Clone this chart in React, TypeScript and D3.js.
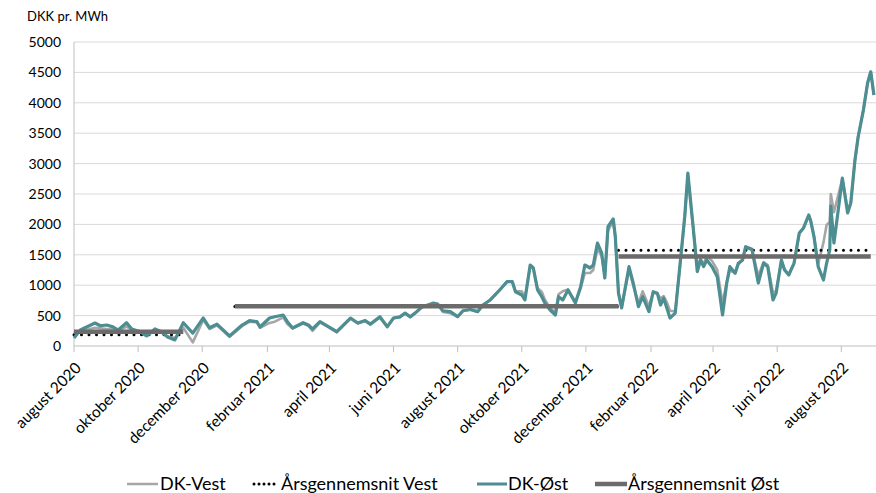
import React from 'react'
import * as d3 from 'd3'

const width = 876
const height = 493
const font = 'Lato, "Open Sans", sans-serif'

// ugentlige observationer (DKK pr. MWh)
const dates = [
  '2020-08-01', '2020-08-07', '2020-08-21', '2020-08-26', '2020-09-01', '2020-09-07', '2020-09-12', '2020-09-20',
  '2020-09-25', '2020-10-03', '2020-10-09', '2020-10-17', '2020-10-24', '2020-10-29', '2020-11-05', '2020-11-13',
  '2020-11-22', '2020-12-02', '2020-12-08', '2020-12-15', '2020-12-27', '2021-01-08', '2021-01-15', '2021-01-22',
  '2021-01-25', '2021-02-03', '2021-02-08', '2021-02-16', '2021-02-20', '2021-02-25', '2021-03-07', '2021-03-12',
  '2021-03-16', '2021-03-23', '2021-03-31', '2021-04-08', '2021-04-21', '2021-04-28', '2021-05-05', '2021-05-10',
  '2021-05-19', '2021-05-26', '2021-06-01', '2021-06-07', '2021-06-12', '2021-06-17', '2021-06-23', '2021-06-28',
  '2021-07-09', '2021-07-13', '2021-07-18', '2021-07-25', '2021-08-01', '2021-08-06', '2021-08-13', '2021-08-20',
  '2021-08-25', '2021-09-01', '2021-09-10', '2021-09-17', '2021-09-22', '2021-09-25', '2021-10-01', '2021-10-04',
  '2021-10-09', '2021-10-12', '2021-10-16', '2021-10-20', '2021-10-23', '2021-10-28', '2021-11-02', '2021-11-05',
  '2021-11-09', '2021-11-14', '2021-11-21', '2021-11-26', '2021-11-30', '2021-12-05', '2021-12-08', '2021-12-12',
  '2021-12-16', '2021-12-19', '2021-12-22', '2021-12-27', '2021-12-29', '2022-01-01', '2022-01-04', '2022-01-11',
  '2022-01-15', '2022-01-20', '2022-01-24', '2022-01-26', '2022-01-30', '2022-02-03', '2022-02-07', '2022-02-10',
  '2022-02-13', '2022-02-16', '2022-02-19', '2022-02-24', '2022-03-01', '2022-03-05', '2022-03-08', '2022-03-13',
  '2022-03-17', '2022-03-20', '2022-03-23', '2022-03-26', '2022-03-31', '2022-04-05', '2022-04-10', '2022-04-14',
  '2022-04-17', '2022-04-22', '2022-04-25', '2022-04-29', '2022-05-02', '2022-05-08', '2022-05-14', '2022-05-19',
  '2022-05-23', '2022-05-28', '2022-05-31', '2022-06-05', '2022-06-08', '2022-06-12', '2022-06-17', '2022-06-22',
  '2022-06-26', '2022-07-01', '2022-07-03', '2022-07-06', '2022-07-10', '2022-07-15', '2022-07-18', '2022-07-21',
  '2022-07-22', '2022-07-25', '2022-08-02', '2022-08-07', '2022-08-10', '2022-08-14', '2022-08-17', '2022-08-22',
  '2022-08-26', '2022-08-29', '2022-09-01',
]

const dkVest = [
  200, 240, 300, 290, 280, 270, 250, 320, 260, 225, 170, 260, 215, 160, 130, 300,
  60, 430, 280, 340, 150, 330, 400, 390, 300, 380, 400, 470, 360, 290, 370, 330,
  250, 390, 310, 225, 450, 370, 410, 350, 470, 310, 455, 475, 535, 475, 560, 635,
  700, 685, 560, 540, 480, 575, 600, 565, 675, 757, 921, 1058, 1058, 900, 900, 800,
  1310, 1270, 950, 893, 760, 620, 560, 850, 900, 930, 720, 950, 1200, 1200, 1250, 1600,
  1480, 1150, 1900, 2050, 1780, 880, 640, 1250, 1000, 700, 900, 820, 650, 880, 860, 780,
  820, 720, 580, 570, 1400, 2100, 2800, 1950, 1300, 1430, 1350, 1480, 1400, 1250, 700, 1050,
  1250, 1200, 1340, 1414, 1620, 1580, 1150, 1380, 1330, 880, 900, 1400, 1260, 1180, 1360, 1850,
  1940, 2150, 2050, 1800, 1350, 1700, 1990, 2040, 2500, 2200, 2750, 2250, 2350, 3060, 3438, 3880,
  4325, 4510, 4128,
]

const dkOest = [
  130, 263, 378, 333, 345, 315, 263, 383, 280, 235, 165, 280, 225, 148, 100, 383,
  213, 460, 300, 360, 165, 345, 416, 400, 312, 460, 480, 510, 400, 296, 383, 345,
  280, 400, 320, 235, 460, 378, 420, 360, 482, 318, 460, 480, 540, 480, 565, 640,
  705, 690, 580, 565, 482, 580, 600, 565, 675, 757, 921, 1058, 1058, 893, 839, 757,
  1332, 1283, 921, 811, 707, 592, 510, 811, 757, 921, 707, 975, 1332, 1283, 1332, 1694,
  1530, 1118, 1962, 2089, 1800, 870, 625, 1305, 1036, 647, 810, 730, 565, 893, 866, 675,
  785, 625, 460, 540, 1414, 2127, 2845, 1962, 1222, 1414, 1305, 1414, 1305, 1140, 510, 1036,
  1305, 1195, 1360, 1414, 1633, 1590, 1036, 1360, 1305, 757, 870, 1414, 1250, 1168, 1360, 1858,
  1940, 2155, 2050, 1800, 1305, 1085, 1360, 1580, 2300, 1694, 2760, 2188, 2350, 3060, 3438, 3880,
  4325, 4510, 4128,
]

// årsgennemsnit: periodens start, slut og niveau
const avgStart = ['2020-08-01', '2021-01-01', '2022-01-01']
const avgEnd = ['2020-11-13', '2022-01-01', '2022-08-29']
const avgVest = [185, 650, 1575]
const avgOest = [235, 655, 1470]

const yTicks = [0, 500, 1000, 1500, 2000, 2500, 3000, 3500, 4000, 4500, 5000]
const xTicks = [
  '2020-08-01', '2020-10-01', '2020-12-01', '2021-02-01', '2021-04-01', '2021-06-01', '2021-08-01',
  '2021-10-01', '2021-12-01', '2022-02-01', '2022-04-01', '2022-06-01', '2022-08-01',
]
const monthNames = ['januar', 'februar', 'marts', 'april', 'maj', 'juni', 'juli', 'august',
  'september', 'oktober', 'november', 'december']

const colors = {
  vest: '#a6a6a6',
  oest: '#4d8e92',
  avgVest: '#000000',
  avgOest: '#6b6b6b',
  grid: '#d9d9d9',
  axis: '#bfbfbf',
  text: '#000000',
}

const parse = d3.utcParse('%Y-%m-%d')

const x = d3.scaleUtc()
  .domain([parse('2020-08-01'), parse('2022-09-03')])
  .range([74, 876])

const y = d3.scaleLinear()
  .domain([0, 5000])
  .range([346, 42])

const lineFn = d3.line<[Date, number]>()
  .x(d => x(d[0]))
  .y(d => y(d[1]))

const vestPts = dates.map((d, i) => [parse(d), dkVest[i]] as [Date, number])
const oestPts = dates.map((d, i) => [parse(d), dkOest[i]] as [Date, number])

const legendItems = [
  { label: 'DK-Vest', x0: 127, x1: 158, tx: 160, color: colors.vest, w: 2.5, dash: undefined },
  { label: 'Årsgennemsnit Vest', x0: 254, x1: 278, tx: 281, color: colors.avgVest, w: 3, dash: '0 5' },
  { label: 'DK-Øst', x0: 477, x1: 507, tx: 508, color: colors.oest, w: 3, dash: undefined },
  { label: 'Årsgennemsnit Øst', x0: 595, x1: 627, tx: 628, color: colors.avgOest, w: 4.5, dash: undefined },
]

export default function App() {
  return (
    <svg width={width} height={height} style={{ position: 'absolute', left: 0, top: 0, background: '#fff' }}
      fontFamily={font}>
      <text x={27} y={21} fontSize={13} fill={colors.text}>DKK pr. MWh</text>

      {yTicks.map(t => (
        <g key={t}>
          {t > 0 && <line x1={74} x2={876} y1={y(t)} y2={y(t)} stroke={colors.grid} strokeWidth={1} />}
          <text x={61} y={y(t)} dy="0.35em" textAnchor="end" fontSize={14} fill={colors.text}>{t}</text>
        </g>
      ))}

      <line x1={74} x2={74} y1={42} y2={346} stroke={colors.axis} strokeWidth={1} />
      <line x1={74} x2={876} y1={346} y2={346} stroke={colors.axis} strokeWidth={1.2} />

      {xTicks.map(t => {
        const d = parse(t)
        const px = x(d)
        return (
          <g key={t}>
            <line x1={px} x2={px} y1={346} y2={352} stroke={colors.axis} strokeWidth={1} />
            <text transform={`translate(${px + 8},${369}) rotate(-45)`} textAnchor="end" fontSize={15.5}
              fill={colors.text}>
              {`${monthNames[d.getUTCMonth()]} ${d.getUTCFullYear()}`}
            </text>
          </g>
        )
      })}

      <path d={lineFn(vestPts)} fill="none" stroke={colors.vest} strokeWidth={2.6} strokeLinejoin="round" />
      {avgVest.map((v, i) => (
        <line key={'av' + i} x1={x(parse(avgStart[i]))} x2={x(parse(avgEnd[i]))} y1={y(v)} y2={y(v)}
          stroke={colors.avgVest} strokeWidth={3} strokeDasharray="0 7.5" strokeLinecap="round" />
      ))}
      <path d={lineFn(oestPts)} fill="none" stroke={colors.oest} strokeWidth={3.2} strokeLinejoin="round" />
      {avgOest.map((v, i) => (
        <line key={'ao' + i} x1={x(parse(avgStart[i]))} x2={x(parse(avgEnd[i]))} y1={y(v)} y2={y(v)}
          stroke={colors.avgOest} strokeWidth={4.5} />
      ))}

      {legendItems.map(it => (
        <g key={it.label}>
          <line x1={it.x0} x2={it.x1} y1={484} y2={484} stroke={it.color} strokeWidth={it.w}
            strokeDasharray={it.dash} strokeLinecap={it.dash ? 'round' : 'butt'} />
          <text x={it.tx} y={484} dy="0.35em" fontSize={18} fill={colors.text}>{it.label}</text>
        </g>
      ))}
    </svg>
  )
}
